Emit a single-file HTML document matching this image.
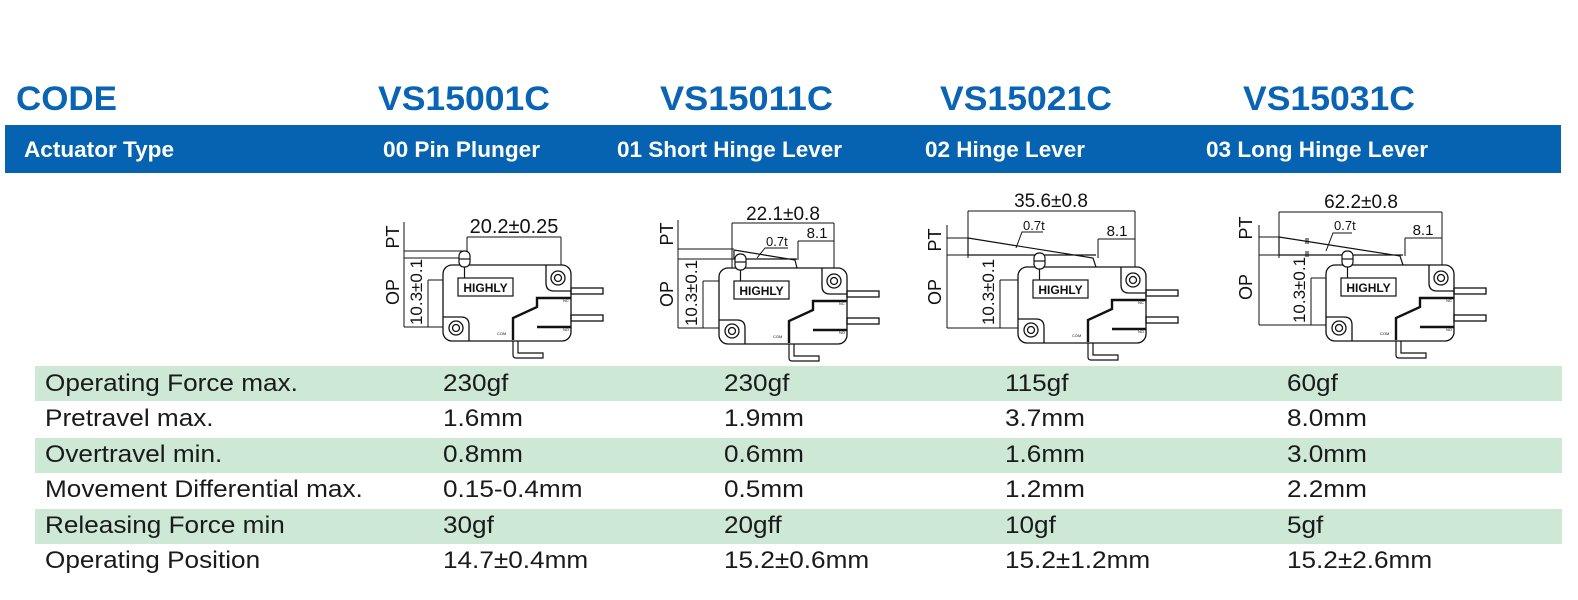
<!DOCTYPE html>
<html><head><meta charset="utf-8"><style>body{margin:0;background:#fff}svg{display:block}</style></head>
<body>
<svg width="1578" height="600" viewBox="0 0 1578 600" xmlns="http://www.w3.org/2000/svg" font-family="Liberation Sans, Arial, sans-serif">
<defs>
<g id="sw" fill="none" stroke="#111" stroke-width="1.3">
  <rect x="0" y="0" width="128" height="76" rx="9" fill="#fff"/>
  <path d="M103 0 V18 Q103 26 111 26 H128"/>
  <circle cx="115" cy="13" r="7"/><circle cx="115" cy="13" r="3.5"/>
  <path d="M0 52 H18 Q26 52 26 60 V76"/>
  <circle cx="13" cy="63" r="7"/><circle cx="13" cy="63" r="3.5"/>
  <rect x="15" y="13" width="55" height="18" stroke-width="1.2"/>
  <text x="42.5" y="27" font-size="12" font-weight="bold" fill="#111" stroke="none" text-anchor="middle">HIGHLY</text>
  <rect x="128" y="23" width="32" height="6"/>
  <rect x="128" y="50" width="32" height="6"/>
  <path d="M70 76 V90 Q70 93 73 93 H100 V88 H75 V76" stroke-width="1.2"/>
  <path d="M70 75 V53 L94 42 V33 H128" stroke-width="2.4"/>
  <path d="M94 62 H128" stroke-width="2.4"/>
  <text x="120" y="37" font-size="4" fill="#111" stroke="none">NC</text>
  <text x="120" y="66" font-size="4" fill="#111" stroke="none">NO</text>
  <text x="54" y="70" font-size="4" fill="#111" stroke="none">COM</text>
</g>
<g id="pl" fill="#fff" stroke="#111" stroke-width="1.2">
  <rect x="16" y="-14" width="11" height="16" rx="5"/>
  <path d="M16 -6 H27" fill="none"/>
  <path d="M21.5 2 V13" fill="none"/>
</g>
</defs>

<!-- Header -->
<text x="16" y="110" font-size="34" font-weight="bold" fill="#0a64b4" textLength="101" lengthAdjust="spacingAndGlyphs">CODE</text>
<text x="378" y="110" font-size="34" font-weight="bold" fill="#0a64b4" textLength="172" lengthAdjust="spacingAndGlyphs">VS15001C</text>
<text x="660" y="110" font-size="34" font-weight="bold" fill="#0a64b4" textLength="173" lengthAdjust="spacingAndGlyphs">VS15011C</text>
<text x="940" y="110" font-size="34" font-weight="bold" fill="#0a64b4" textLength="172" lengthAdjust="spacingAndGlyphs">VS15021C</text>
<text x="1243" y="110" font-size="34" font-weight="bold" fill="#0a64b4" textLength="172" lengthAdjust="spacingAndGlyphs">VS15031C</text>

<rect x="5" y="125" width="1556" height="48" fill="#0563b1"/>
<g font-size="22" font-weight="bold" fill="#fff">
<text x="24" y="157" textLength="150" lengthAdjust="spacingAndGlyphs">Actuator Type</text>
<text x="383" y="157" textLength="157" lengthAdjust="spacingAndGlyphs">00 Pin Plunger</text>
<text x="617" y="157" textLength="225" lengthAdjust="spacingAndGlyphs">01 Short Hinge Lever</text>
<text x="925" y="157" textLength="160" lengthAdjust="spacingAndGlyphs">02 Hinge Lever</text>
<text x="1206" y="157" textLength="222" lengthAdjust="spacingAndGlyphs">03 Long Hinge Lever</text>
</g>

<!-- Table -->
<rect x="35" y="366" width="1527" height="35" fill="#cee8d6"/>
<rect x="35" y="438" width="1527" height="35" fill="#cee8d6"/>
<rect x="35" y="509" width="1527" height="35" fill="#cee8d6"/>
<g font-size="24" fill="#1a1a1a" transform="scale(1.09 1)">
<text x="41.3" y="391">Operating Force max.</text><text x="406.4" y="391">230gf</text><text x="664.2" y="391">230gf</text><text x="922" y="391">115gf</text><text x="1180.7" y="391">60gf</text>
<text x="41.3" y="426">Pretravel max.</text><text x="406.4" y="426">1.6mm</text><text x="664.2" y="426">1.9mm</text><text x="922" y="426">3.7mm</text><text x="1180.7" y="426">8.0mm</text>
<text x="41.3" y="462">Overtravel min.</text><text x="406.4" y="462">0.8mm</text><text x="664.2" y="462">0.6mm</text><text x="922" y="462">1.6mm</text><text x="1180.7" y="462">3.0mm</text>
<text x="41.3" y="497">Movement Differential max.</text><text x="406.4" y="497">0.15-0.4mm</text><text x="664.2" y="497">0.5mm</text><text x="922" y="497">1.2mm</text><text x="1180.7" y="497">2.2mm</text>
<text x="41.3" y="533">Releasing Force min</text><text x="406.4" y="533">30gf</text><text x="664.2" y="533">20gff</text><text x="922" y="533">10gf</text><text x="1180.7" y="533">5gf</text>
<text x="41.3" y="568">Operating Position</text><text x="406.4" y="568">14.7±0.4mm</text><text x="664.2" y="568">15.2±0.6mm</text><text x="922" y="568">15.2±1.2mm</text><text x="1180.7" y="568">15.2±2.6mm</text>
</g>

<!-- Drawing 1 -->
<g stroke="#111" stroke-width="1" fill="none">
  <path d="M467 237 V280 M561 237 V280 M467 237 H561 M404 222 V327 M404 251 H467 M404 258 H470 M428 280 V327 M428 280 H561 M404 327 H456"/>
</g>
<use href="#sw" x="443" y="265"/><use href="#pl" x="443" y="265"/>
<g fill="#111">
<text x="514" y="233" font-size="20" text-anchor="middle">20.2±0.25</text>
<text transform="translate(399,237) rotate(-90)" font-size="18" text-anchor="middle">PT</text>
<text transform="translate(399,292) rotate(-90)" font-size="18" text-anchor="middle">OP</text>
<text transform="translate(422,292) rotate(-90)" font-size="17" text-anchor="middle">10.3±0.1</text>
</g>

<!-- Drawing 2 -->
<g stroke="#111" stroke-width="1" fill="none">
  <path d="M732 223 V281 M834 223 V281 M732 223 H834 M798 241 H834 M798 241 V260 M678 220 V328 M678 249 H734 M678 259 H734 M703 281 V328 M703 281 H834 M678 328 H732"/>
  <path d="M734 250 L795 260 L797 268 M734 250 V259 H797" stroke-width="1.2"/>
  <path d="M788 248 H765 L757 258"/>
</g>
<use href="#sw" x="719" y="268"/><use href="#pl" x="719" y="268"/>
<g fill="#111">
<text x="783" y="220" font-size="19" text-anchor="middle">22.1±0.8</text>
<text x="817" y="238" font-size="15" text-anchor="middle">8.1</text>
<text x="766" y="246" font-size="13">0.7t</text>
<text transform="translate(673,234) rotate(-90)" font-size="18" text-anchor="middle">PT</text>
<text transform="translate(673,294) rotate(-90)" font-size="18" text-anchor="middle">OP</text>
<text transform="translate(697,293) rotate(-90)" font-size="17" text-anchor="middle">10.3±0.1</text>
</g>

<!-- Drawing 3 -->
<g stroke="#111" stroke-width="1" fill="none">
  <path d="M968 211 V258 M1135 211 V280 M968 211 H1135 M1098 239 H1135 M1098 239 V258 M947 225 V328 M947 238 H968 M947 255 H968 M1000 280 V328 M1000 280 H1135 M947 328 H1031"/>
  <path d="M968 238 L1093 258 L1096 267 M968 238 V255 H1096" stroke-width="1.2"/>
  <path d="M1043 232 H1022 L1016 248"/>
</g>
<use href="#sw" x="1018" y="267"/><use href="#pl" x="1018" y="267"/>
<g fill="#111">
<text x="1051" y="207" font-size="19" text-anchor="middle">35.6±0.8</text>
<text x="1117" y="236" font-size="15" text-anchor="middle">8.1</text>
<text x="1023" y="230" font-size="13">0.7t</text>
<text transform="translate(941,240) rotate(-90)" font-size="18" text-anchor="middle">PT</text>
<text transform="translate(941,292) rotate(-90)" font-size="18" text-anchor="middle">OP</text>
<text transform="translate(994,292) rotate(-90)" font-size="17" text-anchor="middle">10.3±0.1</text>
</g>

<!-- Drawing 4 -->
<g stroke="#111" stroke-width="1" fill="none">
  <path d="M1279 212 V258 M1442 212 V278 M1279 212 H1442 M1405 238 H1442 M1405 238 V256 M1259 225 V325 M1259 237 H1279 M1259 255 H1279 M1311 278 V325 M1311 278 H1442 M1259 325 H1339"/>
  <path d="M1279 237 L1400 256 L1403 265 M1279 237 V255 H1403" stroke-width="1.2"/>
  <path d="M1352 233 H1333 L1326 251 M1306 238 v6 M1308 238 v6 M1306 251 v6 M1308 251 v6"/>
</g>
<use href="#sw" x="1326" y="265"/><use href="#pl" x="1326" y="265"/>
<g fill="#111">
<text x="1361" y="208" font-size="19" text-anchor="middle">62.2±0.8</text>
<text x="1423" y="235" font-size="15" text-anchor="middle">8.1</text>
<text x="1334" y="230" font-size="13">0.7t</text>
<text transform="translate(1252,228) rotate(-90)" font-size="18" text-anchor="middle">PT</text>
<text transform="translate(1252,287) rotate(-90)" font-size="18" text-anchor="middle">OP</text>
<text transform="translate(1305,290) rotate(-90)" font-size="17" text-anchor="middle">10.3±0.1</text>
</g>
</svg>
</body></html>
